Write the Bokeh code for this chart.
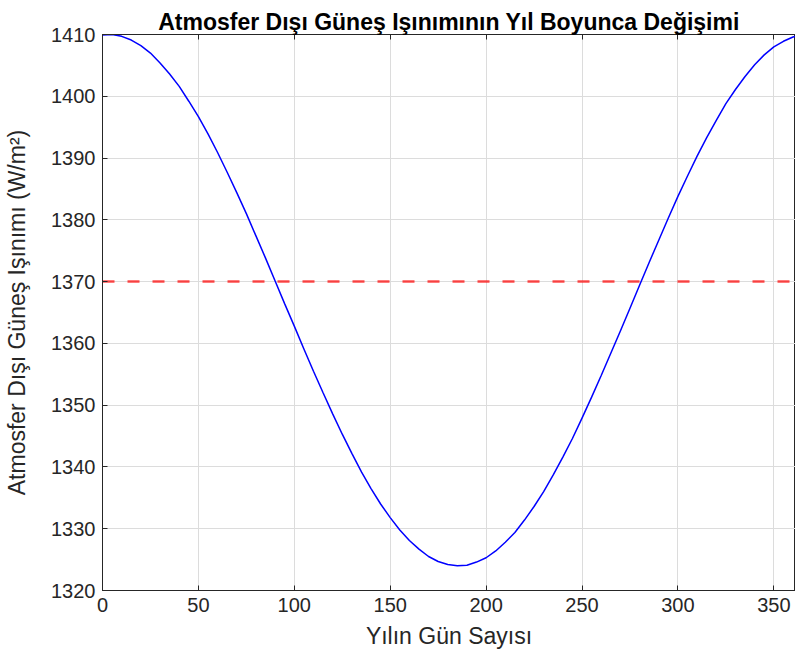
from bokeh.plotting import figure
from bokeh.models import Range1d, LinearAxis, FixedTicker
from bokeh.embed import file_html
from bokeh.resources import INLINE

# Day of year and read-off extraterrestrial irradiance (W/m^2)
days = [0, 5, 10, 15, 20, 25, 30, 35, 40, 45, 50, 55, 60, 65, 70, 75, 80, 85,
        90, 95, 100, 105, 110, 115, 120, 125, 130, 135, 140, 145, 150, 155,
        160, 165, 170, 175, 180, 185, 190, 195, 200, 205, 210, 215, 220, 225,
        230, 235, 240, 245, 250, 255, 260, 265, 270, 275, 280, 285, 290, 295,
        300, 305, 310, 315, 320, 325, 330, 335, 340, 345, 350, 355, 360, 365]
irradiance = [1409.9, 1410.0, 1409.7, 1409.1, 1408.2, 1407.0, 1405.4, 1403.6,
              1401.6, 1399.2, 1396.7, 1393.9, 1390.9, 1387.7, 1384.4, 1381.0,
              1377.4, 1373.8, 1370.1, 1366.4, 1362.8, 1359.1, 1355.5, 1352.0,
              1348.6, 1345.3, 1342.2, 1339.2, 1336.5, 1334.0, 1331.8, 1329.8,
              1328.1, 1326.7, 1325.5, 1324.7, 1324.2, 1324.0, 1324.1, 1324.6,
              1325.3, 1326.4, 1327.8, 1329.4, 1331.4, 1333.6, 1336.0, 1338.7,
              1341.6, 1344.6, 1347.9, 1351.3, 1354.8, 1358.4, 1362.0, 1365.7,
              1369.4, 1373.1, 1376.7, 1380.3, 1383.8, 1387.1, 1390.3, 1393.3,
              1396.1, 1398.8, 1401.1, 1403.2, 1405.1, 1406.7, 1408.0, 1408.9,
              1409.6, 1409.9]
solar_constant = 1370
ref_days = [0, 365]
x_ticks = [0, 50, 100, 150, 200, 250, 300, 350]
y_ticks = [1320, 1330, 1340, 1350, 1360, 1370, 1380, 1390, 1400, 1410]

FONT = "Liberation Sans"
AX = "#262626"

p = figure(width=795, height=662, output_backend="svg", toolbar_location=None,
           x_range=Range1d(0, 361.3), y_range=Range1d(1320, 1410),
           min_border_left=102, min_border_right=0, min_border_top=34,
           min_border_bottom=72,
           title="Atmosfer Dışı Güneş Işınımının Yıl Boyunca Değişimi")

p.title.text_font = FONT
p.title.text_font_size = "23px"
p.title.text_font_style = "bold"
p.title.text_color = "black"
p.title.align = "center"
p.title.standoff = 0

p.outline_line_color = AX
p.outline_line_width = 1
p.background_fill_color = "white"
p.border_fill_color = "white"

p.line(ref_days, [solar_constant, solar_constant], line_color="red",
       line_alpha=0.7, line_width=2.5, line_dash="12 13")
p.line(days, irradiance, line_color="blue", line_width=1.5)

for ax in (p.xaxis[0], p.yaxis[0]):
    ax.major_tick_in = 5
    ax.major_tick_out = 0
    ax.minor_tick_line_color = None
    ax.axis_line_color = AX
    ax.major_tick_line_color = AX
    ax.major_label_text_color = AX
    ax.major_label_text_font = FONT
    ax.major_label_text_font_size = "20px"
    ax.axis_label_text_font = FONT
    ax.axis_label_text_font_size = "23px"
    ax.axis_label_text_font_style = "normal"
    ax.axis_label_text_color = AX

p.xaxis[0].ticker = FixedTicker(ticks=x_ticks)
p.yaxis[0].ticker = FixedTicker(ticks=y_ticks)
p.xaxis[0].axis_label = "Yılın Gün Sayısı"
p.yaxis[0].axis_label = "Atmosfer Dışı Güneş Işınımı (W/m²)"
p.xaxis[0].major_label_standoff = 7
p.xaxis[0].axis_label_standoff = 8
p.yaxis[0].major_label_standoff = 7
p.yaxis[0].axis_label_standoff = 18

top = LinearAxis(ticker=FixedTicker(ticks=x_ticks), major_tick_in=5,
                 major_tick_out=0, minor_tick_line_color=None,
                 major_label_overrides={t: "" for t in x_ticks},
                 major_label_text_font_size="6px", axis_line_color=AX,
                 major_tick_line_color=AX, major_label_standoff=0)
p.add_layout(top, "above")

p.xgrid.ticker = FixedTicker(ticks=x_ticks)
p.ygrid.ticker = FixedTicker(ticks=y_ticks)
p.grid.grid_line_color = "#dcdcdc"
p.grid.grid_line_width = 1

open("out.html", "w").write(file_html(p, INLINE))
